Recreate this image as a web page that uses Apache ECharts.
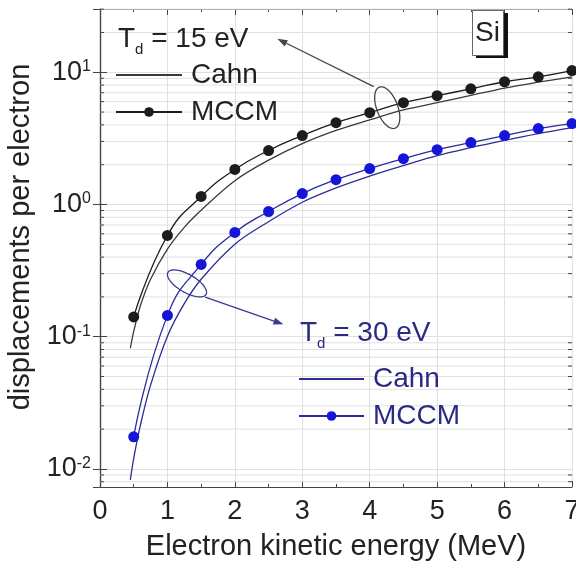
<!DOCTYPE html>
<html><head><meta charset="utf-8">
<script src="https://cdn.jsdelivr.net/npm/echarts@6/dist/echarts.min.js"></script>
<style>html,body{margin:0;padding:0;background:#fff}#c{width:576px;height:567px}</style>
</head><body><div id="c"></div>
<script>
// ---- data ----
const energyMCCM = [0.5, 1, 1.5, 2, 2.5, 3, 3.5, 4, 4.5, 5, 5.5, 6, 6.5, 7];
const mccm15 = [0.141, 0.583, 1.15, 1.84, 2.56, 3.32, 4.16, 4.95, 5.89, 6.65, 7.5, 8.48, 9.24, 10.3];
const mccm30 = [0.0175, 0.145, 0.352, 0.615, 0.885, 1.21, 1.54, 1.87, 2.22, 2.6, 2.94, 3.32, 3.75, 4.09];
const energyCahn = [0.45, 0.5, 0.6, 0.75, 1, 1.25, 1.5, 2, 2.5, 3, 3.5, 4, 4.5, 5, 5.5, 6, 6.5, 7];
const cahn15 = [0.0818, 0.1096, 0.172, 0.272, 0.460, 0.672, 0.905, 1.514, 2.163, 2.884, 3.63, 4.365, 5.19, 5.89, 6.68, 7.59, 8.41, 9.23];
const cahn30 = [0.00826, 0.0120, 0.0215, 0.0430, 0.1010, 0.178, 0.272, 0.501, 0.741, 1.04, 1.334, 1.64, 1.97, 2.344, 2.69, 3.05, 3.43, 3.81];
const xRange = [0, 7];
const yRange = [0.0073, 30.1];
const seriesNames = ['Cahn (15 eV)', 'MCCM (15 eV)', 'Cahn (30 eV)', 'MCCM (30 eV)'];

// ---- styling ----
const FONT = 'Liberation Sans, Arial, sans-serif';
const AXIS = '#444';
const GRID = '#e0e0e0';
const BLACK = '#1c1c1c';
const BLACK_CAHN = '#3a3a3a';
const NAVY = '#2c2c98';
const BLUE_DOT = '#1515d8';
const NAVY_TEXT = '#2a2a85';

const zip = (xs, ys) => xs.map((x, i) => [x, ys[i]]);

// minor log positions (2..9 x 10^n) inside the range
const minorY = [];
for (let e = -3; e <= 1; e++) for (let k = 2; k <= 9; k++) {
  const v = k * Math.pow(10, e);
  if (v > yRange[0] && v < yRange[1]) minorY.push([0, v]);
}

const annotations = [
  { center: [4.26, 5.4], a: 22, b: 10.5, angle: 69, tail: [4.06, 7.78], tip: [2.63, 17.9], color: '#444' },
  { center: [1.29, 0.253], a: 22, b: 9, angle: 30, tail: [1.56, 0.199], tip: [2.72, 0.124], color: '#3a3a92' }
];

const supFmt = v => {
  const e = Math.log10(v), r = Math.round(e);
  if (Math.abs(e - r) > 1e-6) return '';
  return '{m|10}{s|' + r + '}';
};

const legendItems = names => names.map(n => n.startsWith('Cahn')
  ? { name: n, itemStyle: { opacity: 0 } }
  : { name: n });

const chart = echarts.init(document.getElementById('c'), null, { renderer: 'canvas' });
chart.setOption({
  animation: false,
  backgroundColor: '#fff',
  grid: { left: 100, right: 4, top: 9, bottom: 80, containLabel: false, outerBoundsMode: 'none' },
  legend: [
    {
      data: legendItems(seriesNames.slice(0, 2)), formatter: n => n.split(' ')[0],
      orient: 'vertical', left: 115, top: 61, padding: 0, itemGap: 9,
      itemWidth: 66, itemHeight: 12, selectedMode: false,
      textStyle: { fontSize: 28, lineHeight: 28, fontFamily: FONT, color: '#222', padding: [0, 0, 0, 4] }
    },
    {
      data: legendItems(seriesNames.slice(2)), formatter: n => n.split(' ')[0],
      orient: 'vertical', left: 298, top: 365, padding: 0, itemGap: 9,
      itemWidth: 65, itemHeight: 12, selectedMode: false,
      textStyle: { fontSize: 28, lineHeight: 28, fontFamily: FONT, color: NAVY_TEXT, padding: [0, 0, 0, 4] }
    }
  ],
  xAxis: [
    {
      type: 'value', min: xRange[0], max: xRange[1], interval: 1, position: 'bottom',
      axisLine: { lineStyle: { color: AXIS, width: 1.2 } },
      axisTick: { inside: true, length: 6, lineStyle: { color: AXIS } },
      minorTick: { show: true, splitNumber: 2, length: 3, lineStyle: { color: AXIS } },
      splitLine: { show: true, lineStyle: { color: GRID, width: 1 } },
      axisLabel: { fontSize: 27, fontFamily: FONT, color: '#222', margin: 11 },
      name: 'Electron kinetic energy (MeV)', nameLocation: 'middle', nameGap: 45,
      nameTextStyle: { fontSize: 29, fontFamily: FONT, color: '#222' }
    },
    {
      type: 'value', min: xRange[0], max: xRange[1], interval: 1, position: 'top',
      axisLine: { show: true, lineStyle: { color: AXIS, width: 1.2 } },
      axisTick: { inside: true, length: 6, lineStyle: { color: AXIS } },
      minorTick: { show: true, splitNumber: 2, length: 3, lineStyle: { color: AXIS } },
      splitLine: { show: false }, axisLabel: { show: false }
    }
  ],
  yAxis: [
    {
      type: 'log', logBase: 10, min: yRange[0], max: yRange[1], position: 'left',
      axisLine: { show: true, lineStyle: { color: AXIS, width: 1.2 } },
      axisTick: { inside: true, length: 7, lineStyle: { color: AXIS } },
      splitLine: { show: true, lineStyle: { color: GRID, width: 1 } },
      axisLabel: {
        formatter: supFmt, margin: 9, showMinLabel: false, showMaxLabel: false,
        rich: {
          m: { fontSize: 27, fontFamily: FONT, color: '#222', lineHeight: 27 },
          s: { fontSize: 16, fontFamily: FONT, color: '#222', verticalAlign: 'top', lineHeight: 16 }
        }
      },
      name: 'displacements per electron', nameLocation: 'middle', nameGap: 46,
      nameTextStyle: { fontSize: 29, fontFamily: FONT, color: '#222', padding: [0, 0, 0, 22] }
    },
    {
      type: 'log', logBase: 10, min: yRange[0], max: yRange[1], position: 'right',
      axisLine: { show: true, lineStyle: { color: AXIS, width: 1.2 } },
      axisTick: { inside: true, length: 7, lineStyle: { color: AXIS } },
      splitLine: { show: false }, axisLabel: { show: false }
    }
  ],
  series: [
    {
      type: 'custom', name: 'minorGrid', z: 1, silent: true,
      data: minorY, encode: { x: 0, y: 1 },
      renderItem: (params, api) => {
        const cs = params.coordSys;
        const y = api.coord([0, api.value(1)])[1];
        return {
          type: 'group', children: [
            { type: 'line', shape: { x1: cs.x, y1: y, x2: cs.x + cs.width, y2: y }, style: { stroke: GRID, lineWidth: 1 } },
            { type: 'line', shape: { x1: cs.x, y1: y, x2: cs.x + 4, y2: y }, style: { stroke: AXIS, lineWidth: 1 } },
            { type: 'line', shape: { x1: cs.x + cs.width - 4, y1: y, x2: cs.x + cs.width, y2: y }, style: { stroke: AXIS, lineWidth: 1 } }
          ]
        };
      }
    },
    {
      name: seriesNames[0], type: 'line', data: zip(energyCahn, cahn15), symbol: 'none',
      smooth: 0.35, z: 3,
      lineStyle: { color: BLACK_CAHN, width: 1.3 }, itemStyle: { color: BLACK_CAHN }
    },
    {
      name: seriesNames[1], type: 'line', data: zip(energyMCCM, mccm15), symbol: 'circle', symbolSize: 11,
      smooth: 0.5, z: 4,
      lineStyle: { color: BLACK, width: 1.3 }, itemStyle: { color: BLACK }
    },
    {
      name: seriesNames[2], type: 'line', data: zip(energyCahn, cahn30), symbol: 'none',
      smooth: 0.35, z: 3,
      lineStyle: { color: NAVY, width: 1.3 }, itemStyle: { color: NAVY }
    },
    {
      name: seriesNames[3], type: 'line', data: zip(energyMCCM, mccm30), symbol: 'circle', symbolSize: 11,
      smooth: 0.5, z: 4,
      lineStyle: { color: NAVY, width: 1.3 }, itemStyle: { color: BLUE_DOT }
    },
    {
      type: 'custom', name: 'annotations', z: 5, silent: true,
      data: annotations.map((a, i) => [a.center[0], a.center[1], i]), encode: { x: 0, y: 1 },
      renderItem: (params, api) => {
        const an = annotations[api.value(2)];
        const c = api.coord(an.center);
        const th = an.angle * Math.PI / 180;
        const u = [Math.cos(th), Math.sin(th)], v = [-Math.sin(th), Math.cos(th)];
        const pts = [];
        for (let i = 0; i < 72; i++) {
          const t = i / 72 * Math.PI * 2;
          pts.push([c[0] + an.a * Math.cos(t) * u[0] + an.b * Math.sin(t) * v[0],
                    c[1] + an.a * Math.cos(t) * u[1] + an.b * Math.sin(t) * v[1]]);
        }
        const tail = api.coord(an.tail), tip = api.coord(an.tip);
        const dx = tip[0] - tail[0], dy = tip[1] - tail[1], L = Math.hypot(dx, dy);
        const d = [dx / L, dy / L], n = [-d[1], d[0]];
        const base = [tip[0] - 10 * d[0], tip[1] - 10 * d[1]];
        return {
          type: 'group', children: [
            { type: 'polygon', shape: { points: pts }, style: { fill: 'none', stroke: an.color, lineWidth: 1.3 } },
            { type: 'line', shape: { x1: tail[0], y1: tail[1], x2: base[0], y2: base[1] }, style: { stroke: an.color, lineWidth: 1.3 } },
            { type: 'polygon', shape: { points: [tip, [base[0] + 3.5 * n[0], base[1] + 3.5 * n[1]], [base[0] - 3.5 * n[0], base[1] - 3.5 * n[1]]] }, style: { fill: an.color } }
          ]
        };
      }
    }
  ],
  graphic: [
    {
      type: 'text', left: 118, top: 25, z: 10,
      style: {
        text: '{m|T}{s|d}{m| = 15 eV}',
        rich: {
          m: { fontSize: 28, fontFamily: FONT, fill: '#222', lineHeight: 36, verticalAlign: 'middle' },
          s: { fontSize: 15, fontFamily: FONT, fill: '#222', lineHeight: 15, verticalAlign: 'bottom' }
        }
      }
    },
    {
      type: 'text', left: 300, top: 319, z: 10,
      style: {
        text: '{m|T}{s|d}{m| = 30 eV}',
        rich: {
          m: { fontSize: 28, fontFamily: FONT, fill: NAVY_TEXT, lineHeight: 36, verticalAlign: 'middle' },
          s: { fontSize: 15, fontFamily: FONT, fill: NAVY_TEXT, lineHeight: 15, verticalAlign: 'bottom' }
        }
      }
    },
    { type: 'rect', left: 476, top: 13, z: 10, shape: { width: 32, height: 45 }, style: { fill: '#111' } },
    { type: 'rect', left: 472, top: 10, z: 11, shape: { width: 31, height: 45 }, style: { fill: '#fff', stroke: '#666', lineWidth: 1 } },
    { type: 'text', x: 487.5, y: 33, z: 12, style: { text: 'Si', fontSize: 28, fontFamily: FONT, fill: '#222', align: 'center', verticalAlign: 'middle' } }
  ]
});
</script>
</body></html>
